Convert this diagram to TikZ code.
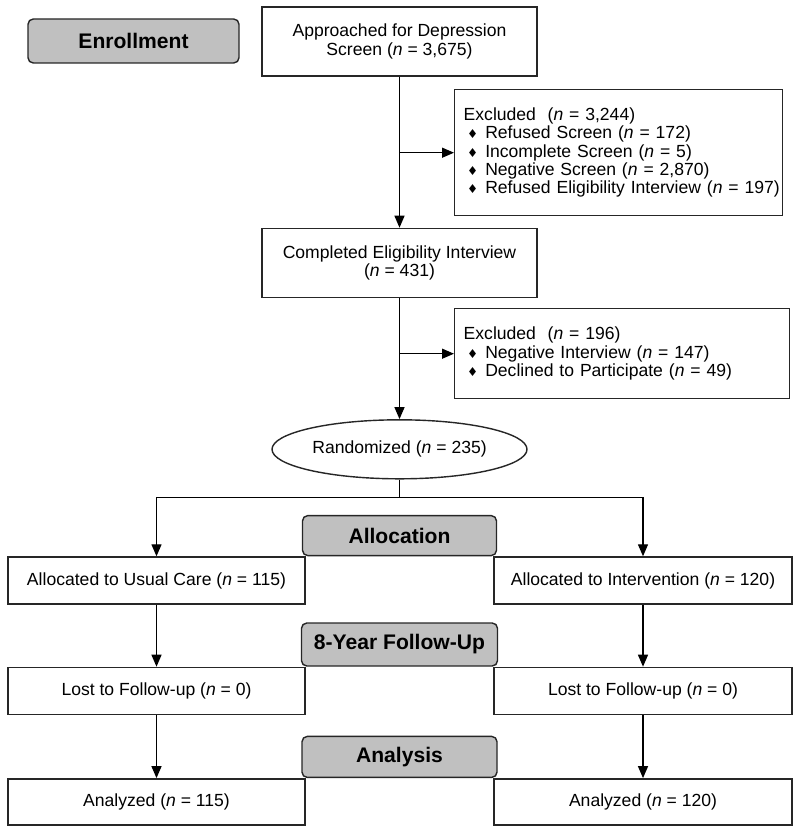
\documentclass[tikz,border=0pt]{standalone}
\usepackage{fontspec}
\setmainfont{Liberation Sans}
\newfontfamily\symfont{DejaVu Sans}
\usepackage{tikz}
\usetikzlibrary{calc, positioning, arrows.meta, shapes.geometric}
\definecolor{stagegray}{RGB}{192,192,192}
\newcommand{\itm}{\hspace*{2pt}{\symfont\fontsize{7}{7}\selectfont ♦}\hspace{4pt}}
\tikzset{
    stage/.style={rectangle, draw=black!85, line width=0.8pt, fill=stagegray, rounded corners=3pt, inner sep=0pt, font=\fontsize{12}{14}\selectfont\bfseries},
    box/.style={rectangle, draw=black!85, line width=0.8pt, fill=white, align=center, inner sep=0pt, font=\fontsize{10}{10.3}\selectfont},
    excl/.style={rectangle, draw=black!85, line width=0.8pt, fill=white, align=left, anchor=north west, inner xsep=0.18cm, inner ysep=0pt, font=\fontsize{10}{10.4}\selectfont},
    arrow/.style={-{Triangle[length=0.24cm, width=0.2cm]}, line width=0.75pt},
    line/.style={line width=0.75pt}
}

\begin{document}
\begin{tikzpicture}
        \useasboundingbox (0,0) rectangle (16,-16.6);

        % enrollment
        \node[stage, minimum width=4.22cm, minimum height=0.88cm] (Enroll) at (2.67,-0.82) {Enrollment};
        \node[box, minimum width=5.5cm, minimum height=1.38cm] (Approached) at (7.99,-0.83) {Approached for Depression\\Screen (\textit{n} = 3,675)};
        \node[excl, text width=6.2cm, minimum height=2.52cm] (Excl1) at (9.08,-1.78) {Excluded\ \ (\textit{n} = 3,244)\\\itm Refused Screen (\textit{n} = 172)\\\itm Incomplete Screen (\textit{n} = 5)\\\itm Negative Screen (\textit{n} = 2,870)\\\mbox{\itm Refused Eligibility Interview (\textit{n} = 197)}};
        \node[box, minimum width=5.5cm, minimum height=1.38cm, below=3.02cm of Approached] (Completed) {Completed Eligibility Interview\\(\textit{n} = 431)};
        \node[excl, text width=6.34cm, minimum height=1.8cm] (Excl2) at (9.08,-6.16) {Excluded\ \ (\textit{n} = 196)\\\itm Negative Interview (\textit{n} = 147)\\\itm Declined to Participate (\textit{n} = 49)};
        \node[ellipse, draw=black!85, line width=0.8pt, fill=white, inner sep=0pt, minimum width=5.1cm, minimum height=1.18cm, font=\fontsize{10}{10.3}\selectfont, below=2.42cm of Completed] (Random) {Randomized (\textit{n} = 235)};
        \coordinate (Split) at ($(Random.south)+(0,-0.36)$);

        % arms
        \node[box, minimum width=5.94cm, minimum height=0.94cm] (AllocUC) at (3.13,-11.61) {Allocated to Usual Care (\textit{n} = 115)};
        \node[box, minimum width=5.96cm, minimum height=0.94cm] (AllocInt) at (12.86,-11.61) {Allocated to Intervention (\textit{n} = 120)};
        \node[box, minimum width=5.94cm, minimum height=0.94cm, below=1.24cm of AllocUC] (LostUC) {Lost to Follow-up (\textit{n} = 0)};
        \node[box, minimum width=5.96cm, minimum height=0.94cm, below=1.24cm of AllocInt] (LostInt) {Lost to Follow-up (\textit{n} = 0)};
        \node[box, minimum width=5.94cm, minimum height=0.92cm, below=1.26cm of LostUC] (AnaUC) {Analyzed (\textit{n} = 115)};
        \node[box, minimum width=5.96cm, minimum height=0.92cm, below=1.26cm of LostInt] (AnaInt) {Analyzed (\textit{n} = 120)};

        % stage labels
        \node[stage, anchor=south, minimum width=3.88cm, minimum height=0.8cm] (Alloc) at (Random.center |- AllocUC.north) {Allocation};
        \node[stage, anchor=south, minimum width=3.92cm, minimum height=0.86cm] (Follow) at (Random.center |- LostUC.north) {8-Year Follow-Up};
        \node[stage, anchor=south, minimum width=3.9cm, minimum height=0.82cm] (Analysis) at (Random.center |- AnaUC.north) {Analysis};

        \draw[arrow] (Approached) -- (Completed);
        \draw[arrow] (Approached.south |- Excl1.west) -- (Excl1.west);
        \draw[arrow] (Completed) -- (Random);
        \draw[arrow] (Completed.south |- Excl2.west) -- (Excl2.west);
        \draw[line] (Random.south) -- (Split);
        \draw[arrow] (Split) -| (AllocUC);
        \draw[arrow] (Split) -| (AllocInt);
        \draw[arrow] (AllocUC) -- (LostUC);
        \draw[arrow] (AllocInt) -- (LostInt);
        \draw[arrow] (LostUC) -- (AnaUC);
        \draw[arrow] (LostInt) -- (AnaInt);
    \end{tikzpicture}
\end{document}
